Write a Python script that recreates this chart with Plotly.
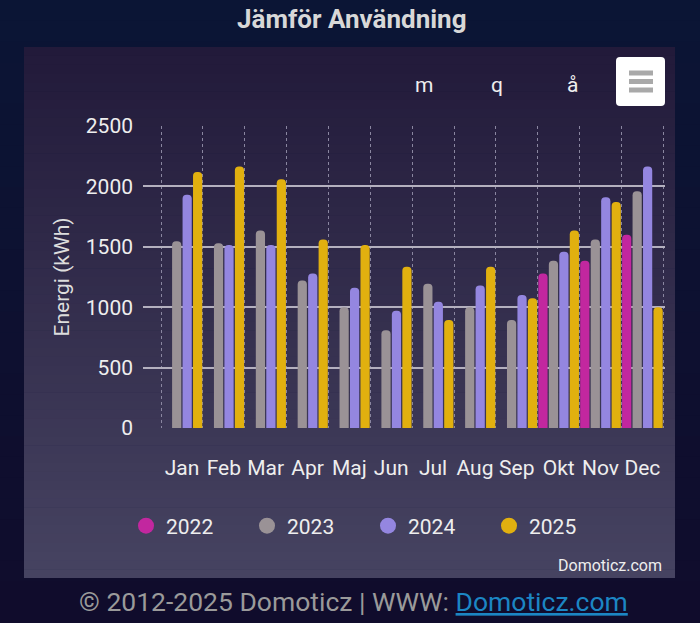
import plotly.graph_objects as go

months = ["Jan", "Feb", "Mar", "Apr", "Maj", "Jun", "Jul", "Aug", "Sep", "Okt", "Nov", "Dec"]
y2022 = [None, None, None, None, None, None, None, None, None, 1280, 1385, 1600]
y2023 = [1545, 1530, 1635, 1220, 1000, 810, 1195, 1000, 895, 1385, 1560, 1960]
y2024 = [1930, 1515, 1515, 1280, 1160, 970, 1045, 1180, 1100, 1460, 1910, 2165]
y2025 = [2120, 2165, 2060, 1560, 1515, 1335, 895, 1335, 1075, 1635, 1870, 1000]
series = [("2022", y2022, "#c2279f"), ("2023", y2023, "#9a9296"),
          ("2024", y2024, "#9486e0"), ("2025", y2025, "#e1b00f")]

W, H = 700, 623
ML, MR, MT, MB = 143, 35, 126, 195
PW = W - ML - MR
PH = H - MT - MB
FONT = "Roboto"


def px_x(px):
    return (px - ML) / PW


def px_y(py):
    return (H - MB - py) / PH


fig = go.Figure()
for name, vals, col in series:
    fig.add_trace(go.Bar(x=months, y=vals, name=name, marker=dict(color=col, line=dict(width=0)),
                         showlegend=False))
for name, vals, col in series:
    fig.add_trace(go.Scatter(x=[None], y=[None], mode="markers", name=name,
                             marker=dict(symbol="circle", size=20, color=col)))

shapes = []


def lerp(c1, c2, t):
    return "rgb(%d,%d,%d)" % tuple(round(a + (b - a) * t) for a, b in zip(c1, c2))


# page background gradient
n = 30
for i in range(n):
    y0, y1 = H * i / n, H * (i + 1) / n + 1
    shapes.append(dict(type="rect", xref="paper", yref="paper", x0=px_x(0), x1=px_x(W),
                       y0=px_y(y1), y1=px_y(y0), fillcolor=lerp((11, 21, 53), (16, 12, 44), i / (n - 1)),
                       line=dict(width=0), layer="below"))
# panel gradient
top, bot = 47, 578
n = 60
for i in range(n):
    y0 = top + (bot - top) * i / n
    y1 = top + (bot - top) * (i + 1) / n + (0.6 if i < n - 1 else 0)
    shapes.append(dict(type="rect", xref="paper", yref="paper", x0=px_x(24), x1=px_x(675),
                       y0=px_y(y1), y1=px_y(y0), fillcolor=lerp((34, 26, 58), (70, 67, 97), i / (n - 1)),
                       line=dict(width=0), layer="below"))


# export menu button (rounded rectangle)
def rounded_rect(x0, y0, x1, y1, r):
    pts = [
        ("M", x0 + r, y0), ("L", x1 - r, y0), ("Q", x1, y0, x1, y0 + r), ("L", x1, y1 - r),
        ("Q", x1, y1, x1 - r, y1), ("L", x0 + r, y1), ("Q", x0, y1, x0, y1 - r), ("L", x0, y0 + r),
        ("Q", x0, y0, x0 + r, y0),
    ]
    out = []
    for p in pts:
        cmd, coords = p[0], p[1:]
        conv = []
        for k in range(0, len(coords), 2):
            conv.append("%.5f,%.5f" % (px_x(coords[k]), px_y(coords[k + 1])))
        out.append(cmd + " ".join(conv))
    return " ".join(out) + " Z"


shapes.append(dict(type="path", xref="paper", yref="paper", path=rounded_rect(616, 57, 665, 106, 4),
                   fillcolor="#ffffff", line=dict(width=0), layer="above"))
for yy in (73, 81.5, 90):
    shapes.append(dict(type="line", xref="paper", yref="paper", x0=px_x(629), x1=px_x(653),
                       y0=px_y(yy), y1=px_y(yy), line=dict(color="#a9a9a9", width=5), layer="above"))

annotations = [
    dict(text="<b>Jämför Användning</b>", x=px_x(352), y=px_y(19), xref="paper", yref="paper",
         showarrow=False, font=dict(family=FONT, size=26, color="#d8d8d8"), xanchor="center", yanchor="middle"),
    dict(text="Domoticz.com", x=px_x(664), y=px_y(565), xref="paper", yref="paper",
         showarrow=False, font=dict(family=FONT, size=16, color="#eeeeee"), xanchor="right", yanchor="middle"),
    dict(text="© 2012-2025 Domoticz | WWW: <span style='color:#1c86c4;text-decoration:underline'>Domoticz.com</span>",
         x=px_x(353), y=px_y(601), xref="paper", yref="paper", showarrow=False,
         font=dict(family=FONT, size=26.5, color="#9a9a9a"), xanchor="center", yanchor="middle"),
]
for label, xx in (("m", 424), ("q", 497), ("å", 572)):
    annotations.append(dict(text=label, x=px_x(xx), y=px_y(85), xref="paper", yref="paper",
                            showarrow=False, font=dict(family=FONT, size=21, color="#eeeeee"),
                            xanchor="center", yanchor="middle"))

fig.update_layout(
    width=W, height=H,
    margin=dict(l=ML, r=MR, t=MT, b=MB, pad=0, autoexpand=False),
    paper_bgcolor="#0b1535", plot_bgcolor="rgba(0,0,0,0)",
    barmode="group", bargap=0.0, bargroupgap=0.12, barcornerradius="50%",
    shapes=shapes, annotations=annotations,
    font=dict(family=FONT, color="#eeeeee"),
    legend=dict(orientation="h", xref="container", yref="container", x=126 / W, y=1 - 526 / H,
                xanchor="left", yanchor="middle", bgcolor="rgba(0,0,0,0)",
                font=dict(family=FONT, size=21, color="#eeeeee"), entrywidth=76, entrywidthmode="pixels"),
    xaxis=dict(type="category", range=[-0.93, 11.54], tickson="boundaries", showgrid=True,
               gridcolor="#8a86a0", griddash="dot", gridwidth=1, ticks="", showline=False,
               zeroline=False, tickfont=dict(family=FONT, size=21, color="#eeeeee"),
               tickangle=0, automargin=False, ticklabelstandoff=25),
    yaxis=dict(range=[0, 2500], tickvals=[0, 500, 1000, 1500, 2000, 2500], showgrid=True,
               gridcolor="#b4b0bf", gridwidth=2, zeroline=False, showline=False, ticks="",
               automargin=False,
               tickfont=dict(family=FONT, size=21, color="#eeeeee"), ticklabelstandoff=9,
               title=dict(text="Energi (kWh)", font=dict(family=FONT, size=21, color="#dddddd"), standoff=10)),
)

fig.write_html("out.html")
